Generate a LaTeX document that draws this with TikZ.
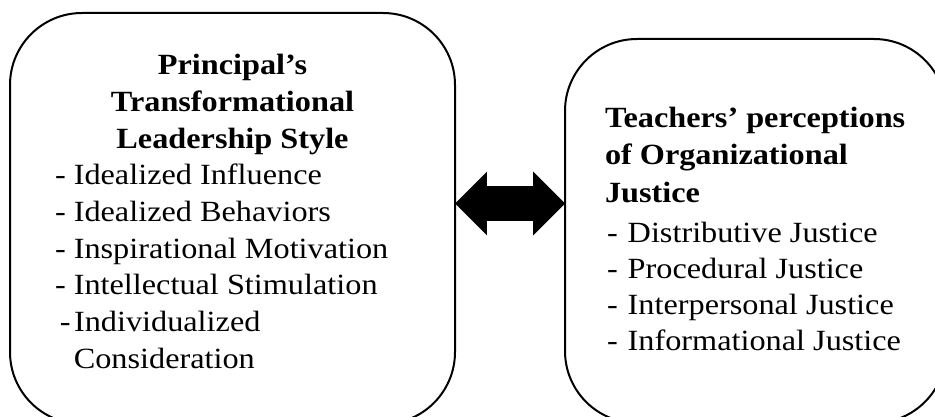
\documentclass[tikz,border=0pt]{standalone}
\usepackage{fontspec}
\setmainfont{Liberation Serif}[FakeStretch=1.1]
\usetikzlibrary{shapes.arrows}
\begin{document}
\begin{tikzpicture}[x=0.75pt,y=-0.75pt,
  box/.style={draw=black, line width=1.5pt, rounded corners=54pt, inner sep=0pt},
  txt/.style={inner sep=0pt, outer sep=0pt},
  arrowshape/.style={double arrow, fill=black, draw=none, inner xsep=0pt, inner ysep=12.75pt,
     outer sep=0pt, minimum height=82.5pt, double arrow head extend=10.875pt,
     double arrow tip angle=90}]
\useasboundingbox (0,0) rectangle (935,417);
\clip (0,0) rectangle (935,417);
\node[box, minimum width=333.75pt, minimum height=308.25pt] (L) at (232.5,218.5) {};
\node[box, minimum width=285.75pt, minimum height=288pt] (R) at (755.5,231) {};
\node[arrowshape] (A) at (510,203.5) {};
\node[txt, anchor=base, font=\fontsize{22}{27.5}\selectfont\bfseries] (Lt) at (232.5,75)
  {\begin{tabular}[t]{@{}c@{}}Principal’s\\Transformational\\Leadership Style\end{tabular}};
\node[txt, anchor=base west, font=\fontsize{22}{27.5}\selectfont] (Li) at (55,185)
  {\begin{tabular}[t]{@{}l@{}}- Idealized Influence\\- Idealized Behaviors\\- Inspirational Motivation\\- Intellectual Stimulation\\\hspace{3.75pt}-\hspace{2.5pt}Individualized\\\phantom{- }Consideration\end{tabular}};
\node[txt, anchor=base west, font=\fontsize{22}{27.75}\selectfont\bfseries] (Rt) at (605,128)
  {\begin{tabular}[t]{@{}l@{}}Teachers’ perceptions\\of Organizational\\Justice\end{tabular}};
\node[txt, anchor=base west, font=\fontsize{22}{27.2}\selectfont] (Ri) at (607,242)
  {\begin{tabular}[t]{@{}l@{}}-\hspace{7.5pt}Distributive Justice\\-\hspace{7.5pt}Procedural Justice\\-\hspace{7.5pt}Interpersonal Justice\\-\hspace{7.5pt}Informational Justice\end{tabular}};
\end{tikzpicture}
\end{document}
